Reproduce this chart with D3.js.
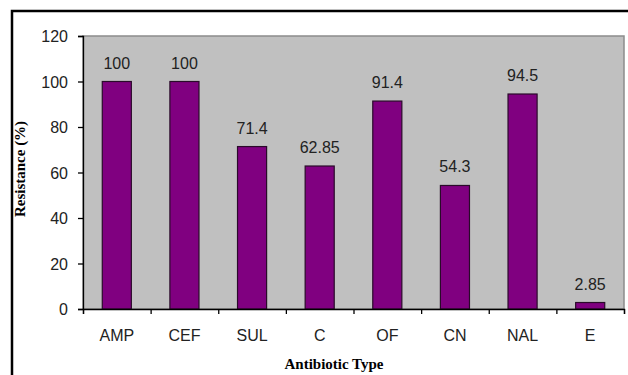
<!DOCTYPE html>
<html>
<head>
<meta charset="utf-8">
<script src="https://cdn.jsdelivr.net/npm/d3@7"></script>
<style>
  body { margin: 0; background: #fff; }
  svg { display: block; }
</style>
</head>
<body>
<script>
const WIDTH = 628;
const HEIGHT = 375;

// datos
const categories = ['AMP', 'CEF', 'SUL', 'C', 'OF', 'CN', 'NAL', 'E'];
const resistance = [100, 100, 71.4, 62.85, 91.4, 54.3, 94.5, 2.85];
const labels = ['100', '100', '71.4', '62.85', '91.4', '54.3', '94.5', '2.85'];
const yTicks = [0, 20, 40, 60, 80, 100, 120];

const plot = { left: 83, right: 624, top: 36, bottom: 309 };
const FONT = 'Arial, "Liberation Sans", sans-serif';
const FS = '16px';

let svg = d3.select('body').append('svg')
    .attr('width', WIDTH)
    .attr('height', HEIGHT);

// marco exterior
svg.append('rect')
    .attr('x', 12).attr('y', 11)
    .attr('width', WIDTH + 10).attr('height', HEIGHT + 10)
    .attr('fill', '#fff')
    .attr('stroke', '#000')
    .attr('stroke-width', 2.5);

let x = d3.scaleBand()
    .domain(categories)
    .range([plot.left, plot.right])
    .paddingInner(0.57)
    .paddingOuter(0.285);

let y = d3.scaleLinear()
    .domain([0, 120])
    .range([plot.bottom, plot.top]);

// fondo gris del area
svg.append('rect')
    .attr('x', plot.left).attr('y', plot.top)
    .attr('width', plot.right - plot.left)
    .attr('height', plot.bottom - plot.top)
    .attr('fill', '#c0c0c0')
    .attr('stroke', '#8c8c8c')
    .attr('stroke-width', 1.5);

// barras
svg.selectAll('rect.bar')
    .data(categories)
    .enter().append('rect')
    .attr('class', 'bar')
    .attr('x', d => x(d))
    .attr('y', (d, i) => y(resistance[i]))
    .attr('width', x.bandwidth())
    .attr('height', (d, i) => y(0) - y(resistance[i]))
    .attr('fill', '#800080')
    .attr('stroke', '#2a0a2a')
    .attr('stroke-width', 1.2);

// etiquetas de valor
svg.selectAll('text.val')
    .data(categories)
    .enter().append('text')
    .attr('class', 'val')
    .attr('x', d => x(d) + x.bandwidth() / 2)
    .attr('y', (d, i) => y(resistance[i]) - 13)
    .attr('text-anchor', 'middle')
    .style('font-family', FONT)
    .style('font-size', FS)
    .style('fill', '#222')
    .text((d, i) => labels[i]);

// eje y
let yAxis = svg.append('g')
    .attr('transform', `translate(${plot.left},0)`)
    .call(d3.axisLeft(y).tickValues(yTicks).tickSize(5).tickPadding(10));

// eje x (ticks entre categorias)
let xLine = d3.scaleLinear().domain([0, categories.length]).range([plot.left, plot.right]);
let xAxis = svg.append('g')
    .attr('transform', `translate(0,${plot.bottom})`)
    .call(d3.axisBottom(xLine).tickValues(d3.range(categories.length + 1)).tickSize(5).tickFormat(''));

[yAxis, xAxis].forEach(g => {
    g.select('.domain').attr('stroke', '#000').attr('stroke-width', 1.3);
    g.selectAll('.tick line').attr('stroke', '#000').attr('stroke-width', 1.3);
    g.selectAll('text')
        .attr('dy', '0.35em')
        .style('font-family', FONT)
        .style('font-size', FS)
        .style('fill', '#222');
});

// nombres de categorias
svg.selectAll('text.cat')
    .data(categories)
    .enter().append('text')
    .attr('class', 'cat')
    .attr('x', d => x(d) + x.bandwidth() / 2)
    .attr('y', plot.bottom + 32)
    .attr('text-anchor', 'middle')
    .style('font-family', FONT)
    .style('font-size', FS)
    .style('fill', '#222')
    .text(d => d);

// titulos de ejes
svg.append('text')
    .attr('x', 334)
    .attr('y', 369)
    .attr('text-anchor', 'middle')
    .style('font-family', '"Liberation Serif", "Times New Roman", serif')
    .style('font-weight', 'bold')
    .style('font-size', '15px')
    .text('Antibiotic Type');

svg.append('text')
    .attr('transform', `translate(25,169) rotate(-90)`)
    .attr('text-anchor', 'middle')
    .style('font-family', '"Liberation Serif", "Times New Roman", serif')
    .style('font-weight', 'bold')
    .style('font-size', '15px')
    .text('Resistance (%)');
</script>
</body>
</html>
